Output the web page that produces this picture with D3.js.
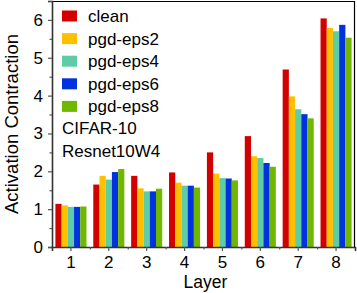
<!DOCTYPE html>
<html>
<head>
<meta charset="utf-8">
<script src="https://cdn.jsdelivr.net/npm/d3@7"></script>
<style>
  body { margin: 0; background: #fff; }
  svg { display: block; font-family: "Liberation Sans", Arial, sans-serif; }
</style>
</head>
<body>
<svg id="chart"></svg>
<script>
// data
const layers = ["1", "2", "3", "4", "5", "6", "7", "8"];
const seriesNames = ["clean", "pgd-eps2", "pgd-eps4", "pgd-eps6", "pgd-eps8"];
const seriesColors = ["#d40000", "#ffc000", "#5fcca8", "#0033dd", "#70b800"];
const clean    = [1.14, 1.65, 1.88, 1.97, 2.50, 2.93, 4.69, 6.04];
const pgdEps2  = [1.10, 1.88, 1.55, 1.70, 1.94, 2.40, 3.98, 5.79];
const pgdEps4  = [1.06, 1.78, 1.47, 1.62, 1.82, 2.35, 3.64, 5.70];
const pgdEps6  = [1.06, 1.98, 1.47, 1.62, 1.81, 2.22, 3.51, 5.87];
const pgdEps8  = [1.07, 2.06, 1.54, 1.57, 1.76, 2.12, 3.40, 5.53];
const yTicks = [0, 1, 2, 3, 4, 5, 6];
const notes = ["CIFAR-10", "Resnet10W4"];

const allSeries = [clean, pgdEps2, pgdEps4, pgdEps6, pgdEps8];

const width = 357, height = 293;
const margin = { top: 1, right: 2, bottom: 46, left: 52 };

const svg = d3.select("#chart")
    .attr("width", width)
    .attr("height", height);

const x = d3.scaleBand()
    .domain(layers)
    .range([margin.left, width - margin.right])
    .paddingInner(0.18)
    .paddingOuter(0.09);

const xs = d3.scaleBand()
    .domain(seriesNames)
    .range([0, x.bandwidth()]);

const y = d3.scaleLinear()
    .domain([0, 6.5])
    .range([height - margin.bottom, margin.top]);

// bars
const groups = svg.append("g")
  .selectAll("g")
  .data(layers)
  .join("g")
    .attr("transform", d => `translate(${x(d)},0)`);

groups.selectAll("rect")
  .data((d, i) => seriesNames.map((s, j) => ({ s, j, v: allSeries[j][i] })))
  .join("rect")
    .attr("x", d => xs(d.s))
    .attr("width", xs.bandwidth())
    .attr("y", d => y(d.v))
    .attr("height", d => y(0) - y(d.v))
    .attr("fill", d => seriesColors[d.j]);

// frame on top and right
svg.append("path")
    .attr("d", `M${margin.left},${margin.top + 0.5}H${width - margin.right - 0.5}V${height - margin.bottom}`)
    .attr("fill", "none")
    .attr("stroke", "#000")
    .attr("stroke-width", 1.2);

// y axis
svg.append("g")
    .attr("transform", `translate(${margin.left},0)`)
    .call(d3.axisLeft(y).tickValues(yTicks).tickFormat(d3.format("d")).tickSize(4).tickPadding(5));
svg.append("g")
    .attr("transform", `translate(${margin.left},0)`)
    .call(d3.axisLeft(y).tickValues(yTicks.map(t => t + 0.5)).tickSize(2.5).tickFormat(""))
    .call(g => g.select(".domain").remove());

// x axis
svg.append("g")
    .attr("transform", `translate(0,${height - margin.bottom})`)
    .call(d3.axisBottom(x).tickSize(4).tickPadding(5));
svg.append("g")
    .attr("transform", `translate(0,${height - margin.bottom})`)
    .call(d3.axisBottom(d3.scaleLinear().domain([0, 8]).range([margin.left, width - margin.right]))
        .tickValues(d3.range(1, 8)).tickSize(2.5).tickFormat(""))
    .call(g => g.select(".domain").remove());

svg.selectAll(".domain").attr("stroke", "#333").attr("stroke-width", 1.6);
svg.selectAll(".tick line").attr("stroke", "#555").attr("stroke-width", 1.2);
svg.selectAll(".tick text").attr("fill", "#000").style("font-size", "17px");

// axis titles
svg.append("text")
    .attr("x", (margin.left + width - margin.right) / 2 + 2)
    .attr("y", 288)
    .attr("text-anchor", "middle")
    .style("font-size", "17.5px")
    .text("Layer");

svg.append("text")
    .attr("transform", `translate(18,${(margin.top + height - margin.bottom) / 2}) rotate(-90)`)
    .attr("text-anchor", "middle")
    .style("font-size", "18.5px")
    .text("Activation Contraction");

// legend
const legend = svg.append("g").attr("transform", "translate(62,16)");
const rowH = 22.6;
seriesNames.forEach((s, i) => {
  legend.append("rect")
      .attr("x", 0)
      .attr("y", i * rowH - 5.5)
      .attr("width", 15)
      .attr("height", 11)
      .attr("fill", seriesColors[i]);
  legend.append("text")
      .attr("x", 26)
      .attr("y", i * rowH)
      .attr("dy", "0.35em")
      .style("font-size", "17px")
      .text(s);
});
notes.forEach((t, i) => {
  legend.append("text")
      .attr("x", 0)
      .attr("y", (seriesNames.length + i) * rowH - 0.5)
      .attr("dy", "0.35em")
      .style("font-size", "17px")
      .text(t);
});
</script>
</body>
</html>
